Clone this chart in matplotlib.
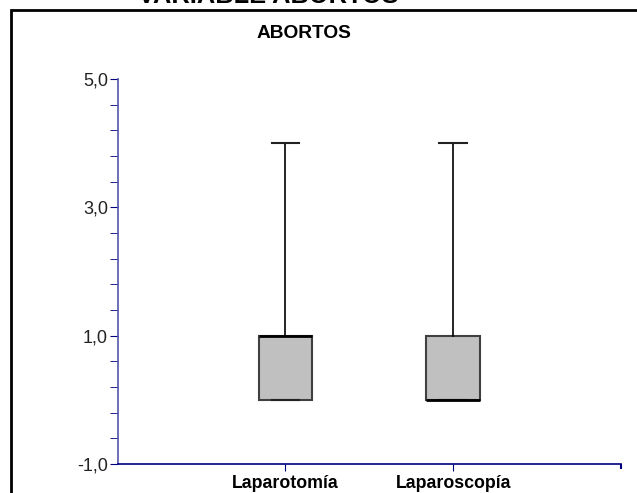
import matplotlib
matplotlib.use("Agg")
import numpy as np
import matplotlib.pyplot as plt
from matplotlib.patches import Rectangle
from matplotlib.ticker import FixedLocator, FuncFormatter

plt.rcParams['font.family'] = ['Liberation Sans', 'DejaVu Sans']

groups = ["Laparotomía", "Laparoscopía"]
whis_low = [0, 0]
q1 = [0, 0]
median = [1, 0]
q3 = [1, 1]
whis_high = [4, 4]

stats = []
for i, g in enumerate(groups):
    stats.append({"label": g, "whislo": whis_low[i], "q1": q1[i], "med": median[i],
                  "q3": q3[i], "whishi": whis_high[i], "fliers": []})

fig = plt.figure(figsize=(6.37, 4.93), dpi=100)
ax = fig.add_axes([117.7 / 637, 1 - 464 / 493, (621 - 117.7) / 637, (464 - 79) / 493])

ax.bxp(stats, positions=[1, 2], widths=0.32, capwidths=0.165, patch_artist=True,
       boxprops=dict(facecolor="#c0c0c0", edgecolor="#404040", linewidth=1.5),
       medianprops=dict(color="black", linewidth=2),
       whiskerprops=dict(color="black", linewidth=1.2),
       capprops=dict(color="#222222", linewidth=1.5))

ax.set_xlim(0, 3)
ax.set_ylim(-1, 5)
ax.yaxis.set_major_locator(FixedLocator([-1, 1, 3, 5]))
ax.yaxis.set_minor_locator(FixedLocator(np.arange(-1, 5.01, 0.4)))
ax.yaxis.set_major_formatter(FuncFormatter(lambda v, p: f"{v:.1f}".replace(".", ",")))
ax.tick_params(axis="y", which="both", length=6, color="#000080", labelsize=13,
               labelcolor="#222222", pad=1)
ax.tick_params(axis="x", length=5, color="#000080", pad=3)
ax.set_xticks([1, 2])
ax.set_xticklabels(groups, fontsize=12.8, fontweight="bold")

for s in ["top", "right"]:
    ax.spines[s].set_visible(False)
ax.spines["left"].set_color("#5555aa")
ax.spines["left"].set_linewidth(1.2)
ax.spines["bottom"].set_color("#000080")
ax.spines["bottom"].set_linewidth(1.2)
ax.vlines(3, -1.08, -1, color="#000080", lw=1.5, clip_on=False)

fig.text(304 / 637, 1 - 33 / 493, "ABORTOS", ha="center", va="center",
         fontsize=13.8, fontweight="bold")
fig.text(268 / 637, 1 - 3 / 493, "VARIABLE ABORTOS", ha="center", va="baseline",
         fontsize=18.3, fontweight="bold")

fig.add_artist(Rectangle((11 / 637, -0.05), 1.0, 1 - 10 / 493 + 0.05,
                         transform=fig.transFigure, fill=False, edgecolor="black", lw=2))

fig.savefig("out.png", dpi=100)
